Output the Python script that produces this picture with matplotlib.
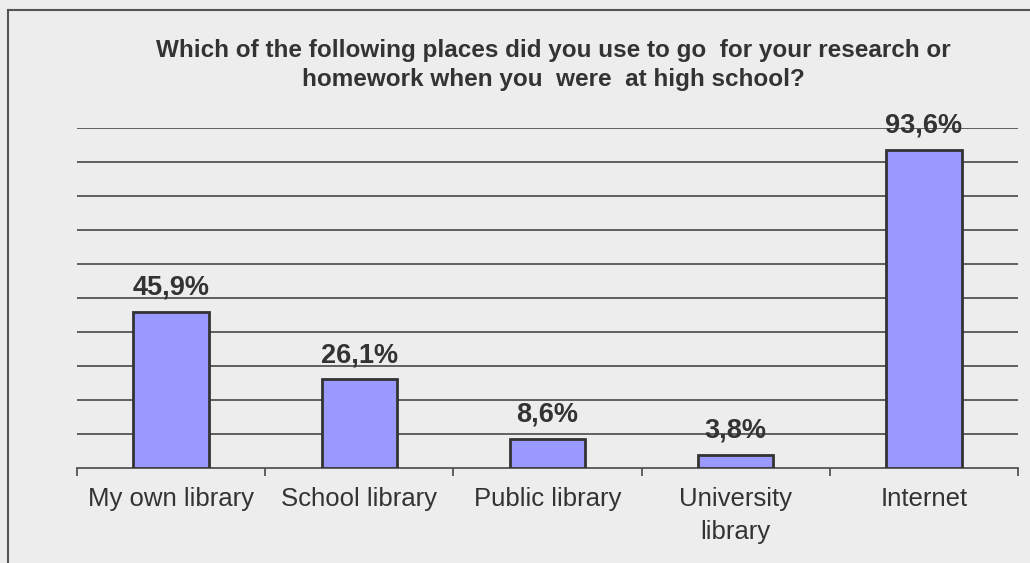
import matplotlib.pyplot as plt
import numpy as np

plt.rcParams['font.family'] = ['Liberation Sans', 'DejaVu Sans']

# chart data
categories = ['My own library', 'School library', 'Public library', 'University\nlibrary', 'Internet']
values = [45.9, 26.1, 8.6, 3.8, 93.6]
labels = ['45,9%', '26,1%', '8,6%', '3,8%', '93,6%']

bg = '#EDEDED'
fig = plt.figure(figsize=(10.30, 5.63), dpi=100, facecolor=bg)
ax = fig.add_axes([77/1030, 95/563, 941/1030, 340/563], facecolor=bg)

x = np.arange(len(categories))
ax.bar(x, values, width=0.4, color='#9999FF', edgecolor='#333333', linewidth=2, zorder=3)

# horizontal gridlines every 10%
for y in np.arange(10, 101, 10):
    ax.axhline(y, color='#555555', linewidth=1.3, zorder=1)

for xi, v, lab in zip(x, values, labels):
    ax.annotate(lab, (xi, v), xytext=(0, 8), textcoords='offset points',
                ha='center', va='bottom', fontsize=19.5, fontweight='bold', color='#333333', zorder=4)

ax.set_xlim(-0.5, len(categories) - 0.5)
ax.set_ylim(0, 100)
ax.set_yticks([])
ax.set_xticks(x)
ax.set_xticklabels(categories, fontsize=18.5, color='#333333', linespacing=1.45)
ax.tick_params(axis='x', length=0, pad=14)
# category boundary ticks
ax.set_xticks(np.arange(-0.5, len(categories)), minor=True)
ax.tick_params(axis='x', which='minor', length=6, width=1.3, color='#555555', direction='out')

for s in ['top', 'right', 'left']:
    ax.spines[s].set_visible(False)
ax.spines['bottom'].set_color('#555555')
ax.spines['bottom'].set_linewidth(1.3)

fig.text(553/1030, 1 - 65/563,
         'Which of the following places did you use to go  for your research or\nhomework when you  were  at high school?',
         ha='center', va='center', fontsize=17.5, fontweight='bold', color='#333333', linespacing=1.3)

# outer frame (left and top)
fig.add_artist(plt.Line2D([8/1030, 8/1030], [0, 1 - 10/563], color='#555555', linewidth=1.5))
fig.add_artist(plt.Line2D([8/1030, 1], [1 - 10/563, 1 - 10/563], color='#555555', linewidth=1.5))

fig.savefig('out.png', dpi=100, facecolor=bg)
